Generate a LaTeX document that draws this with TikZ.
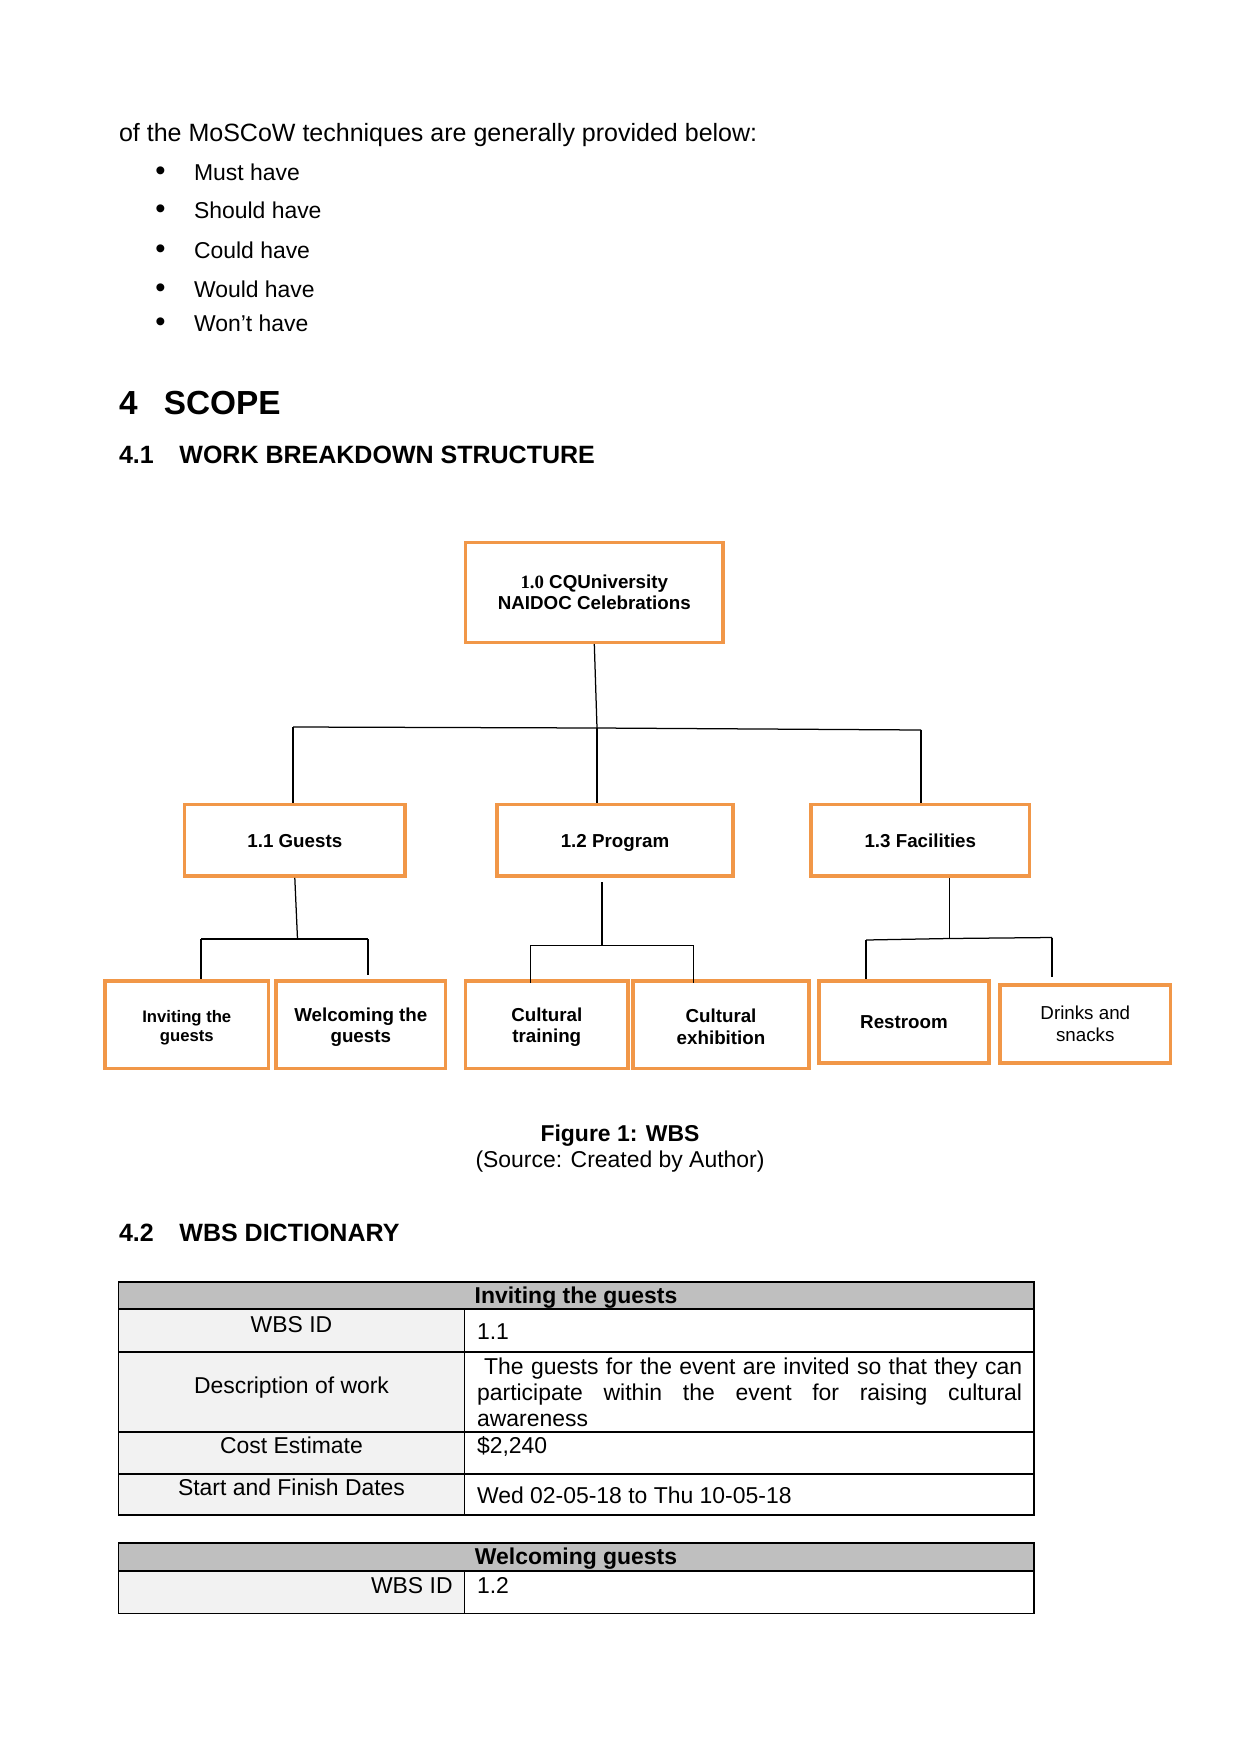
\documentclass[tikz,border=0pt]{standalone}
\usepackage{fontspec}
\setmainfont{Liberation Sans}
\newfontfamily\timesfont{Liberation Serif}
\definecolor{wbsorange}{RGB}{241,151,72}
\definecolor{hdrgray}{RGB}{191,191,191}
\definecolor{colgray}{RGB}{242,242,242}
\newdimen\pxu \pxu=0.4797pt
\newcommand\sizeA{\fontsize{12}{14}\selectfont}
\newcommand\sizeB{\fontsize{11}{12.7}\selectfont}
\newcommand\sizeH{\fontsize{16}{19}\selectfont}
\newcommand\sizeN{\fontsize{9}{10.3}\selectfont}
\newcommand\sizeS{\fontsize{8}{9.1}\selectfont}
\newcommand\sizeBul{\fontsize{14}{14}\selectfont}
\newcommand\lift{\rule{0pt}{8.6pt}}
\tikzset{
  wbox/.style={draw=wbsorange, line width=1.7pt, fill=white, align=center, inner sep=2pt, font=\bfseries\sizeN},
  oneline/.style={text height=6.5pt, text depth=0pt},
  conn/.style={draw=black, line width=0.6pt},
  txt/.style={anchor=base west, inner sep=0pt},
  ctxt/.style={anchor=base, inner sep=0pt},
  tline/.style={draw=black, line width=0.6pt},
}
\begin{document}
\begin{tikzpicture}[x=0.4797pt, y=-0.4797pt]
\useasboundingbox[fill=white] (0,0) rectangle (1241,1754);

% intro and list
\node[txt, font=\sizeA] (intro) at (118.6,141) {of the MoSCoW techniques are generally provided below:};
\node[txt, font=\sizeBul] (bu1) at (155,180) {\textbullet};
\node[txt, font=\sizeB] (it1) at (193.6,180) {Must have};
\node[txt, font=\sizeBul] (bu2) at (155,219) {\textbullet};
\node[txt, font=\sizeB] (it2) at (193.6,219) {Should have};
\node[txt, font=\sizeBul] (bu3) at (155,258) {\textbullet};
\node[txt, font=\sizeB] (it3) at (193.6,258) {Could have};
\node[txt, font=\sizeBul] (bu4) at (155,297) {\textbullet};
\node[txt, font=\sizeB] (it4) at (193.6,297) {Would have};
\node[txt, font=\sizeBul] (bu5) at (155,331) {\textbullet};
\node[txt, font=\sizeB] (it5) at (193.6,331) {Won’t have};

% headings
\node[txt, font=\bfseries\sizeH] (h4n) at (118.6,414) {4};
\node[txt, font=\bfseries\sizeH] (h4t) at (163.4,414) {SCOPE};
\node[txt, font=\bfseries\sizeA] (h41n) at (118.6,463) {4.1};
\node[txt, font=\bfseries\sizeA] (h41t) at (179,463) {WORK BREAKDOWN STRUCTURE};

% WBS boxes
\node[wbox, minimum width=257.5\pxu, minimum height=99.6\pxu] (top) at (594.3,592.5) {{\timesfont 1.0} CQUniversity\\NAIDOC Celebrations};
\node[wbox, oneline, minimum width=220.4\pxu, minimum height=71.4\pxu] (g) at (294.8,840.3) {1.1 Guests};
\node[wbox, oneline, minimum width=236\pxu, minimum height=71.4\pxu] (p) at (615,840.3) {1.2 Program};
\node[wbox, oneline, minimum width=218.5\pxu, minimum height=71.4\pxu] (f) at (920.3,840.3) {1.3 Facilities};
\node[wbox, font=\bfseries\sizeS, minimum width=163.6\pxu, minimum height=87.6\pxu] (inv) at (186.8,1024.8) {\lift Inviting the\\guests};
\node[wbox, minimum width=169.5\pxu, minimum height=87.6\pxu] (wel) at (360.8,1024.8) {\lift Welcoming the\\guests};
\node[wbox, minimum width=162.5\pxu, minimum height=87.6\pxu] (ct) at (546.8,1024.8) {\lift Cultural\\training};
\node[wbox, minimum width=176\pxu, minimum height=87.6\pxu] (ce) at (721,1024.8) {\lift Cultural\\exhibition};
\node[wbox, oneline, minimum width=170\pxu, minimum height=82\pxu] (rr) at (904,1022) {Restroom};
\node[wbox, font=\sizeN, minimum width=170.5\pxu, minimum height=78\pxu] (dr) at (1085.3,1024) {Drinks and\\snacks};

% connectors level 1
\coordinate (busL) at (293,727);
\coordinate (busM) at (597,728);
\coordinate (busR) at (921,730);
\draw[conn] (top.south) -- (busM);
\draw[conn] (busL) -- (busM) -- (busR);
\draw[conn] (busL) -- (busL |- g.north);
\draw[conn] (busM) -- (busM |- p.north);
\draw[conn] (busR) -- (busR |- f.north);

% connectors guests
\coordinate (gj) at (297.5,939);
\coordinate (gbL) at (201,939);
\coordinate (gbR) at (368,939);
\draw[conn] (g.south) -- (gj);
\draw[conn] (gbL) -- (gbR);
\draw[conn] (gbL) -- (gbL |- inv.north);
\draw[conn] (gbR) -- ([yshift=2pt]gbR |- wel.north);

% connectors program
\coordinate (pj) at (602,945.6);
\coordinate (pbL) at (530.4,945.6);
\coordinate (pbR) at (693.8,945.6);
\draw[conn] ([yshift=-2.2pt]p.south -| pj) -- (pj);
\draw[conn] (pbL) -- (pbR);
\draw[conn] (pbL) -- ([yshift=-2pt]pbL |- ct.north);
\draw[conn] (pbR) -- ([yshift=-2pt]pbR |- ce.north);

% connectors facilities
\coordinate (fj) at (949.5,938.5);
\coordinate (fbL) at (866,940);
\coordinate (fbR) at (1052,937.5);
\draw[conn] (f.south -| fj) -- (fj);
\draw[conn] (fbL) -- (fj) -- (fbR);
\draw[conn] (fbL) -- (fbL |- rr.north);
\draw[conn] (fbR) -- ([yshift=3pt]fbR |- dr.north);

% caption
\node[ctxt, font=\bfseries\sizeB] (cap1) at (620,1141.5) {Figure 1: WBS};
\node[ctxt, font=\sizeB] (cap2) at (620,1167) {(Source: Created by Author)};

% heading 4.2
\node[txt, font=\bfseries\sizeA] (h42n) at (118.6,1241) {4.2};
\node[txt, font=\bfseries\sizeA] (h42t) at (179,1241) {WBS DICTIONARY};

% table 1
\fill[hdrgray] (118.6,1282) rectangle (1034,1309);
\fill[colgray] (118.6,1309) rectangle (464.4,1515);
\draw[tline] (118.6,1282) rectangle (1034,1515);
\draw[tline] (118.6,1309) -- (1034,1309);
\draw[tline] (118.6,1352) -- (1034,1352);
\draw[draw=black, line width=1.2pt] (118.6,1432) -- (1034,1432);
\draw[tline] (118.6,1474) -- (1034,1474);
\draw[tline] (464.4,1309) -- (464.4,1515);
\node[ctxt, font=\bfseries\sizeB] (t1h) at (576,1303.6) {Inviting the guests};
\node[ctxt, font=\sizeB] (t1a) at (291.5,1332.7) {WBS ID};
\node[txt, font=\sizeB] (t1av) at (476.7,1339.5) {1.1};
\node[ctxt, font=\sizeB] (t1b) at (291.5,1393) {Description of work};
\node[txt, font=\sizeB] (t1bv) at (476.7,1374) {\parbox[t]{545\pxu}{\hspace*{7\pxu}The guests for the event are invited so that they can\linebreak participate within the event for raising cultural\linebreak awareness}};
\node[ctxt, font=\sizeB] (t1c) at (291.5,1453.6) {Cost Estimate};
\node[txt, font=\sizeB] (t1cv) at (476.7,1453.6) {\$2,240};
\node[ctxt, font=\sizeB] (t1d) at (291.5,1495) {Start and Finish Dates};
\node[txt, font=\sizeB] (t1dv) at (476.7,1503) {Wed 02-05-18 to Thu 10-05-18};

% table 2
\fill[hdrgray] (118.6,1543) rectangle (1034,1571);
\fill[colgray] (118.6,1571) rectangle (464.4,1613.6);
\draw[tline] (118.6,1543) rectangle (1034,1613.6);
\draw[tline] (118.6,1571) -- (1034,1571);
\draw[tline] (464.4,1571) -- (464.4,1613.6);
\node[ctxt, font=\bfseries\sizeB] (t2h) at (576,1564) {Welcoming guests};
\node[anchor=base east, inner sep=0pt, font=\sizeB] (t2a) at (453,1593.5) {WBS ID};
\node[txt, font=\sizeB] (t2av) at (476.7,1593.5) {1.2};
\end{tikzpicture}
\end{document}
